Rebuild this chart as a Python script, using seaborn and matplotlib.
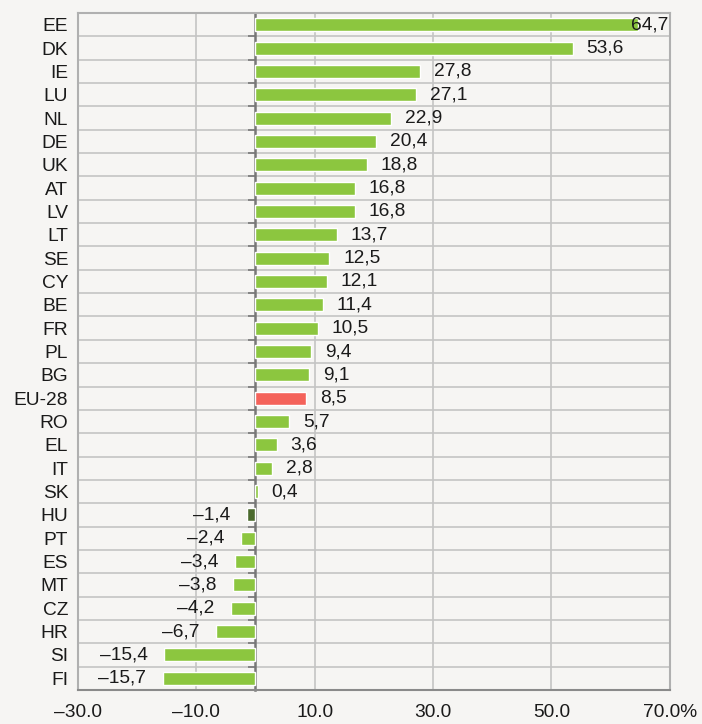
import matplotlib
matplotlib.use("Agg")
import matplotlib.pyplot as plt
import seaborn as sns
import pandas as pd
from matplotlib import font_manager

countries = ["EE", "DK", "IE", "LU", "NL", "DE", "UK", "AT", "LV", "LT", "SE", "CY",
             "BE", "FR", "PL", "BG", "EU-28", "RO", "EL", "IT", "SK", "HU", "PT", "ES",
             "MT", "CZ", "HR", "SI", "FI"]
values = [64.7, 53.6, 27.8, 27.1, 22.9, 20.4, 18.8, 16.8, 16.8, 13.7, 12.5, 12.1,
          11.4, 10.5, 9.4, 9.1, 8.5, 5.7, 3.6, 2.8, 0.4, -1.4, -2.4, -3.4,
          -3.8, -4.2, -6.7, -15.4, -15.7]
groups = ["country"] * 16 + ["eu"] + ["country"] * 4 + ["highlight"] + ["country"] * 7
xticks = [-30, -10, 10, 30, 50, 70]
xticklabels = ["\u201330.0", "\u201310.0", "10.0", "30.0", "50.0", "70.0%"]

palette = {"country": "#8cc63f", "eu": "#f4625a", "highlight": "#4b6a2d"}
bg = "#f6f5f3"

sns.set_theme(style="white")
names = {f.name for f in font_manager.fontManager.ttflist}
fam = "Liberation Sans Narrow" if "Liberation Sans Narrow" in names else "Liberation Sans"
plt.rcParams["font.family"] = [fam, "DejaVu Sans"]
fs = 14 if fam == "Liberation Sans Narrow" else 13.8

df = pd.DataFrame({"country": countries, "value": values, "group": groups})

fig = plt.figure(figsize=(7.02, 7.24), dpi=100, facecolor=bg)
ax = fig.add_axes([0.111, 0.047, 0.843, 0.935])
ax.set_facecolor(bg)

sns.barplot(data=df, x="value", y="country", hue="group", palette=palette,
            orient="h", dodge=False, width=0.56, legend=False, ax=ax, saturation=1)

n = len(countries)
ax.set_xlim(-30, 70)
ax.set_ylim(n - 0.5, -0.5)

# grid
for i in range(n - 1):
    ax.axhline(i + 0.5, color="#c4c4c4", lw=1.2, zorder=0)
for xv in xticks[1:-1]:
    ax.axvline(xv, color="#c4c4c4", lw=1.2, zorder=0)

for side in ["left", "right", "top"]:
    ax.spines[side].set_color("#b0b0b0")
    ax.spines[side].set_linewidth(1.5)
ax.spines["bottom"].set_color("#8a8a8a")
ax.spines["bottom"].set_linewidth(1.5)

ax.set_xticks(xticks)
ax.set_xticklabels(xticklabels, fontsize=fs, color="#1a1a1a")
ax.tick_params(axis="x", direction="out", length=5, width=1.2, color="#8a8a8a", pad=5)
ax.tick_params(axis="y", length=0, pad=7, labelsize=fs, labelcolor="#1a1a1a")
ax.set_xlabel("")
ax.set_ylabel("")

# zero axis with boundary ticks
sec = ax.secondary_yaxis(0.3)
sec.set_yticks([i + 0.5 for i in range(n - 1)])
sec.set_yticklabels([])
sec.tick_params(axis="y", direction="out", length=5, width=1.2, color="#777777")
sec.spines["left"].set_color("#777777")
sec.spines["left"].set_linewidth(1.8)

# value labels
for i, v in enumerate(values):
    txt = f"{abs(v):.1f}".replace(".", ",")
    if v < 0:
        txt = "\u2013" + txt
    if v > 62:
        ax.annotate(txt, (70, i), xytext=(-1, 0), textcoords="offset points",
                    ha="right", va="center", fontsize=fs, color="#1a1a1a")
    elif v >= 0:
        ax.annotate(txt, (v, i), xytext=(10, 0), textcoords="offset points",
                    ha="left", va="center", fontsize=fs, color="#1a1a1a")
    else:
        ax.annotate(txt, (v, i), xytext=(-12, 0), textcoords="offset points",
                    ha="right", va="center", fontsize=fs, color="#1a1a1a")

fig.savefig("out.png", dpi=100, facecolor=bg)
